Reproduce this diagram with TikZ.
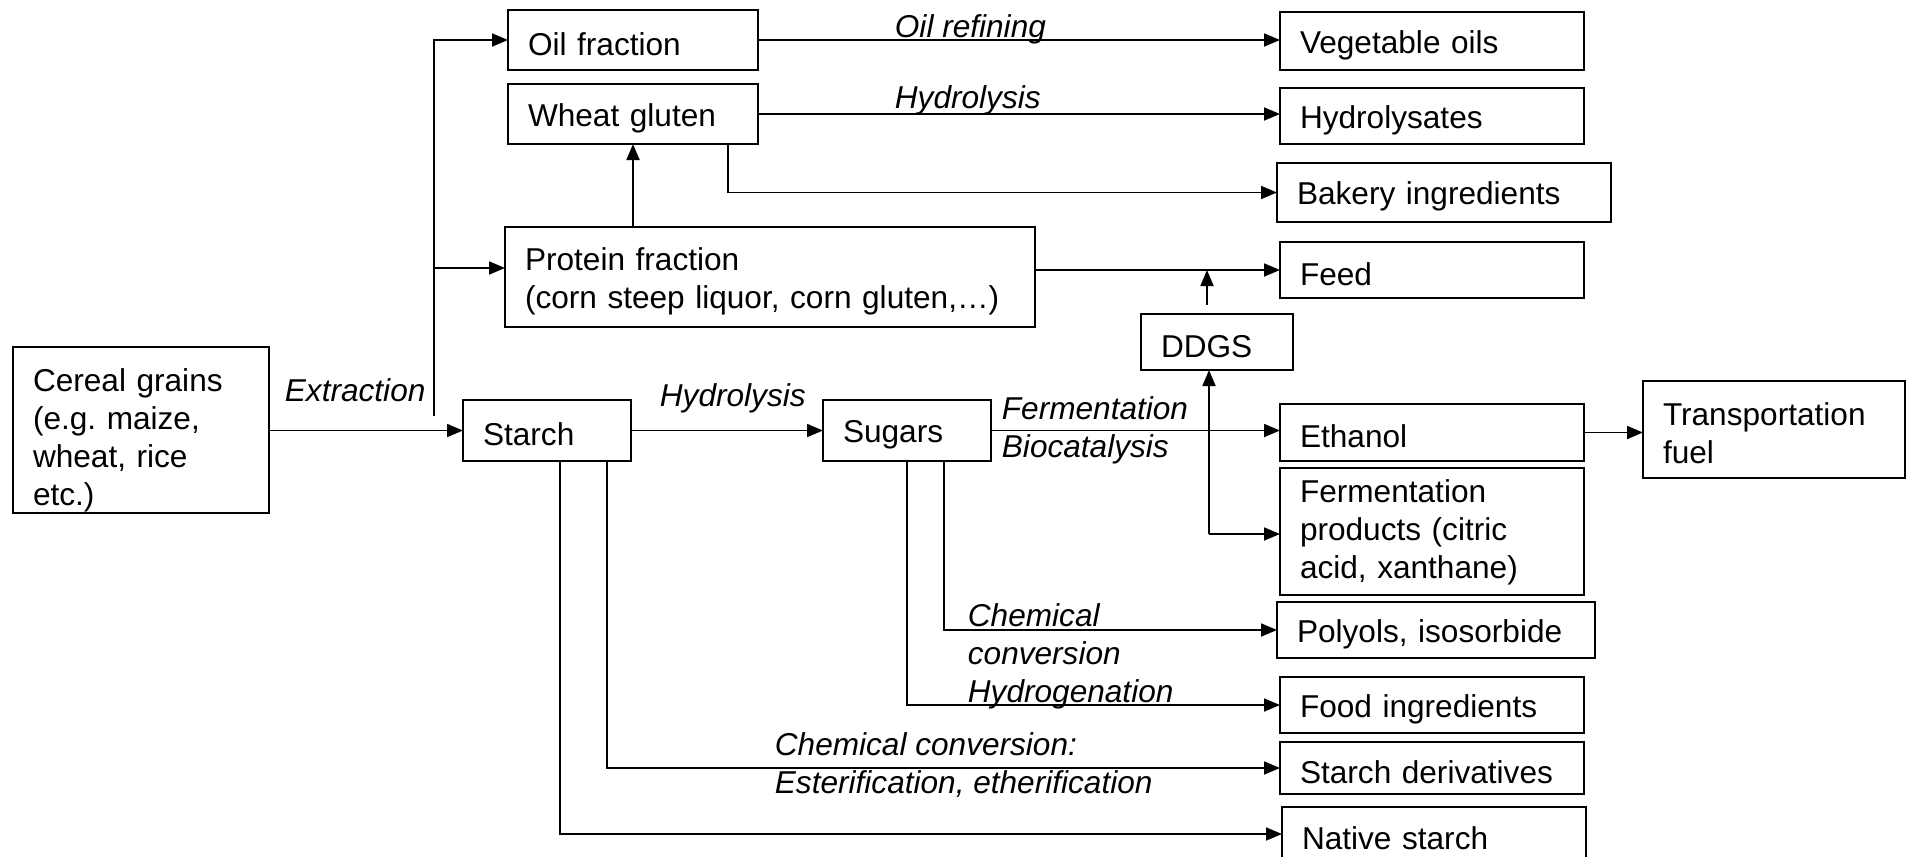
\documentclass[tikz,border=0pt]{standalone}
\usepackage{fontspec}
\setmainfont{Liberation Sans}
\usetikzlibrary{arrows.meta,calc}
\frenchspacing
\newcommand\mybx[7][15.4pt]{%
  \pgfmathsetmacro\bxw{(#5-#3)*0.5-20}%
  \pgfmathsetmacro\bxh{(#6-#4)*0.5}%
  \node[box, anchor=north west, text width=\bxw pt, minimum height=\bxh pt] (#2) at (#3,#4) {\rule{0pt}{#1}#7};}
\begin{document}
\begin{tikzpicture}[x=0.5pt,y=-0.5pt,
  font=\fontsize{15.8}{19}\selectfont, line width=0.9pt,
  box/.style={draw, rectangle, align=left, inner xsep=10pt, inner ysep=0pt, outer sep=0pt},
  arr/.style={-{Triangle[length=8pt,width=6.5pt]}},
  lbl/.style={font=\fontsize{15.8}{19}\selectfont\itshape, inner sep=0pt, align=left, anchor=west}]
\useasboundingbox (0,0) rectangle (1907,857);
\clip (0,0) rectangle (1907,857);

% boxes
\mybx[21.5pt]{cereal}{13}{347}{269}{513}{Cereal grains\\(e.g. maize,\\wheat, rice\\etc.)}
\mybx{oil}{508}{10}{758}{70}{Oil fraction}
\mybx{wheat}{508}{84}{758}{144}{Wheat gluten}
\mybx{protein}{505}{227}{1035}{327}{Protein fraction\\(corn steep liquor, corn gluten,…)}
\mybx{starch}{463}{400}{631}{461}{Starch}
\mybx{sugars}{823}{400}{991}{461}{Sugars}
\mybx{vegoil}{1280}{12}{1584}{70}{Vegetable oils}
\mybx{hydro}{1280}{88}{1584}{144}{Hydrolysates}
\mybx{bakery}{1277}{163}{1611}{222}{Bakery ingredients}
\mybx{feed}{1280}{242}{1584}{298}{Feed}
\mybx{ddgs}{1141}{314}{1293}{370}{DDGS}
\mybx{ethanol}{1280}{404}{1584}{461}{Ethanol}
\mybx{transport}{1643}{381}{1905}{478}{Transportation\\fuel}
\mybx[12.5pt]{fermprod}{1280}{468}{1584}{595}{Fermentation\\products (citric\\acid, xanthane)}
\mybx{polyols}{1277}{602}{1595}{658}{Polyols, isosorbide}
\mybx{food}{1280}{677}{1584}{733}{Food ingredients}
\mybx{sderiv}{1280}{742}{1584}{794}{Starch derivatives}
\mybx{native}{1282}{807}{1586}{861}{Native starch}

% labels
\node[lbl] (loil) at (894,29) {Oil refining};
\node[lbl] (lhyd1) at (894,100) {Hydrolysis};
\node[lbl] (lext) at (284,390) {Extraction};
\node[lbl] (lhyd2) at (659,398) {Hydrolysis};
\node[lbl] (lferm) at (1001,430) {Fermentation\\Biocatalysis};
\node[lbl] (lchem1) at (967,656) {Chemical\\conversion\\Hydrogenation};
\node[lbl] (lchem2) at (774,765) {Chemical conversion:\\Esterification, etherification};

% junctions
\coordinate (ex) at (434,416);
\coordinate (pj) at (434,268);
\coordinate (wj) at (728,144);
\coordinate (dj) at (1207,305);
\coordinate (fj) at (1209,534);

% connectors
\draw[arr] (cereal.east |- starch.west) -- (starch.west);
\draw[arr] (ex) |- (oil.west);
\draw[arr] (pj) -- (pj -| protein.west);
\draw[arr] (oil.east) -- (oil.east -| vegoil.west);
\draw[arr] (wheat.east) -- (wheat.east -| hydro.west);
\draw[arr] (wj) |- (bakery.west);
\draw[arr] (protein.north -| wheat.south) -- (wheat.south);
\draw[arr] (protein.east |- feed.west) -- (feed.west);
\draw[arr] (dj) -- (dj |- feed.west);
\draw[arr] (fj) -- (fj |- ddgs.south);
\draw[arr] (fj) -- (fj -| fermprod.west);
\draw[arr] (starch.east) -- (starch.east -| sugars.west);
\draw[arr] (sugars.east) -- (sugars.east -| ethanol.west);
\draw[arr] (ethanol.east) -- (ethanol.east -| transport.west);
\draw[arr] (sugars.south) |- (food.west);
\draw[arr] ([xshift=18.5pt]sugars.south) |- (polyols.west);
\draw[arr] ([xshift=6.5pt]starch.south) |- (native.west);
\draw[arr] ([xshift=30pt]starch.south) |- (sderiv.west);
\end{tikzpicture}
\end{document}
